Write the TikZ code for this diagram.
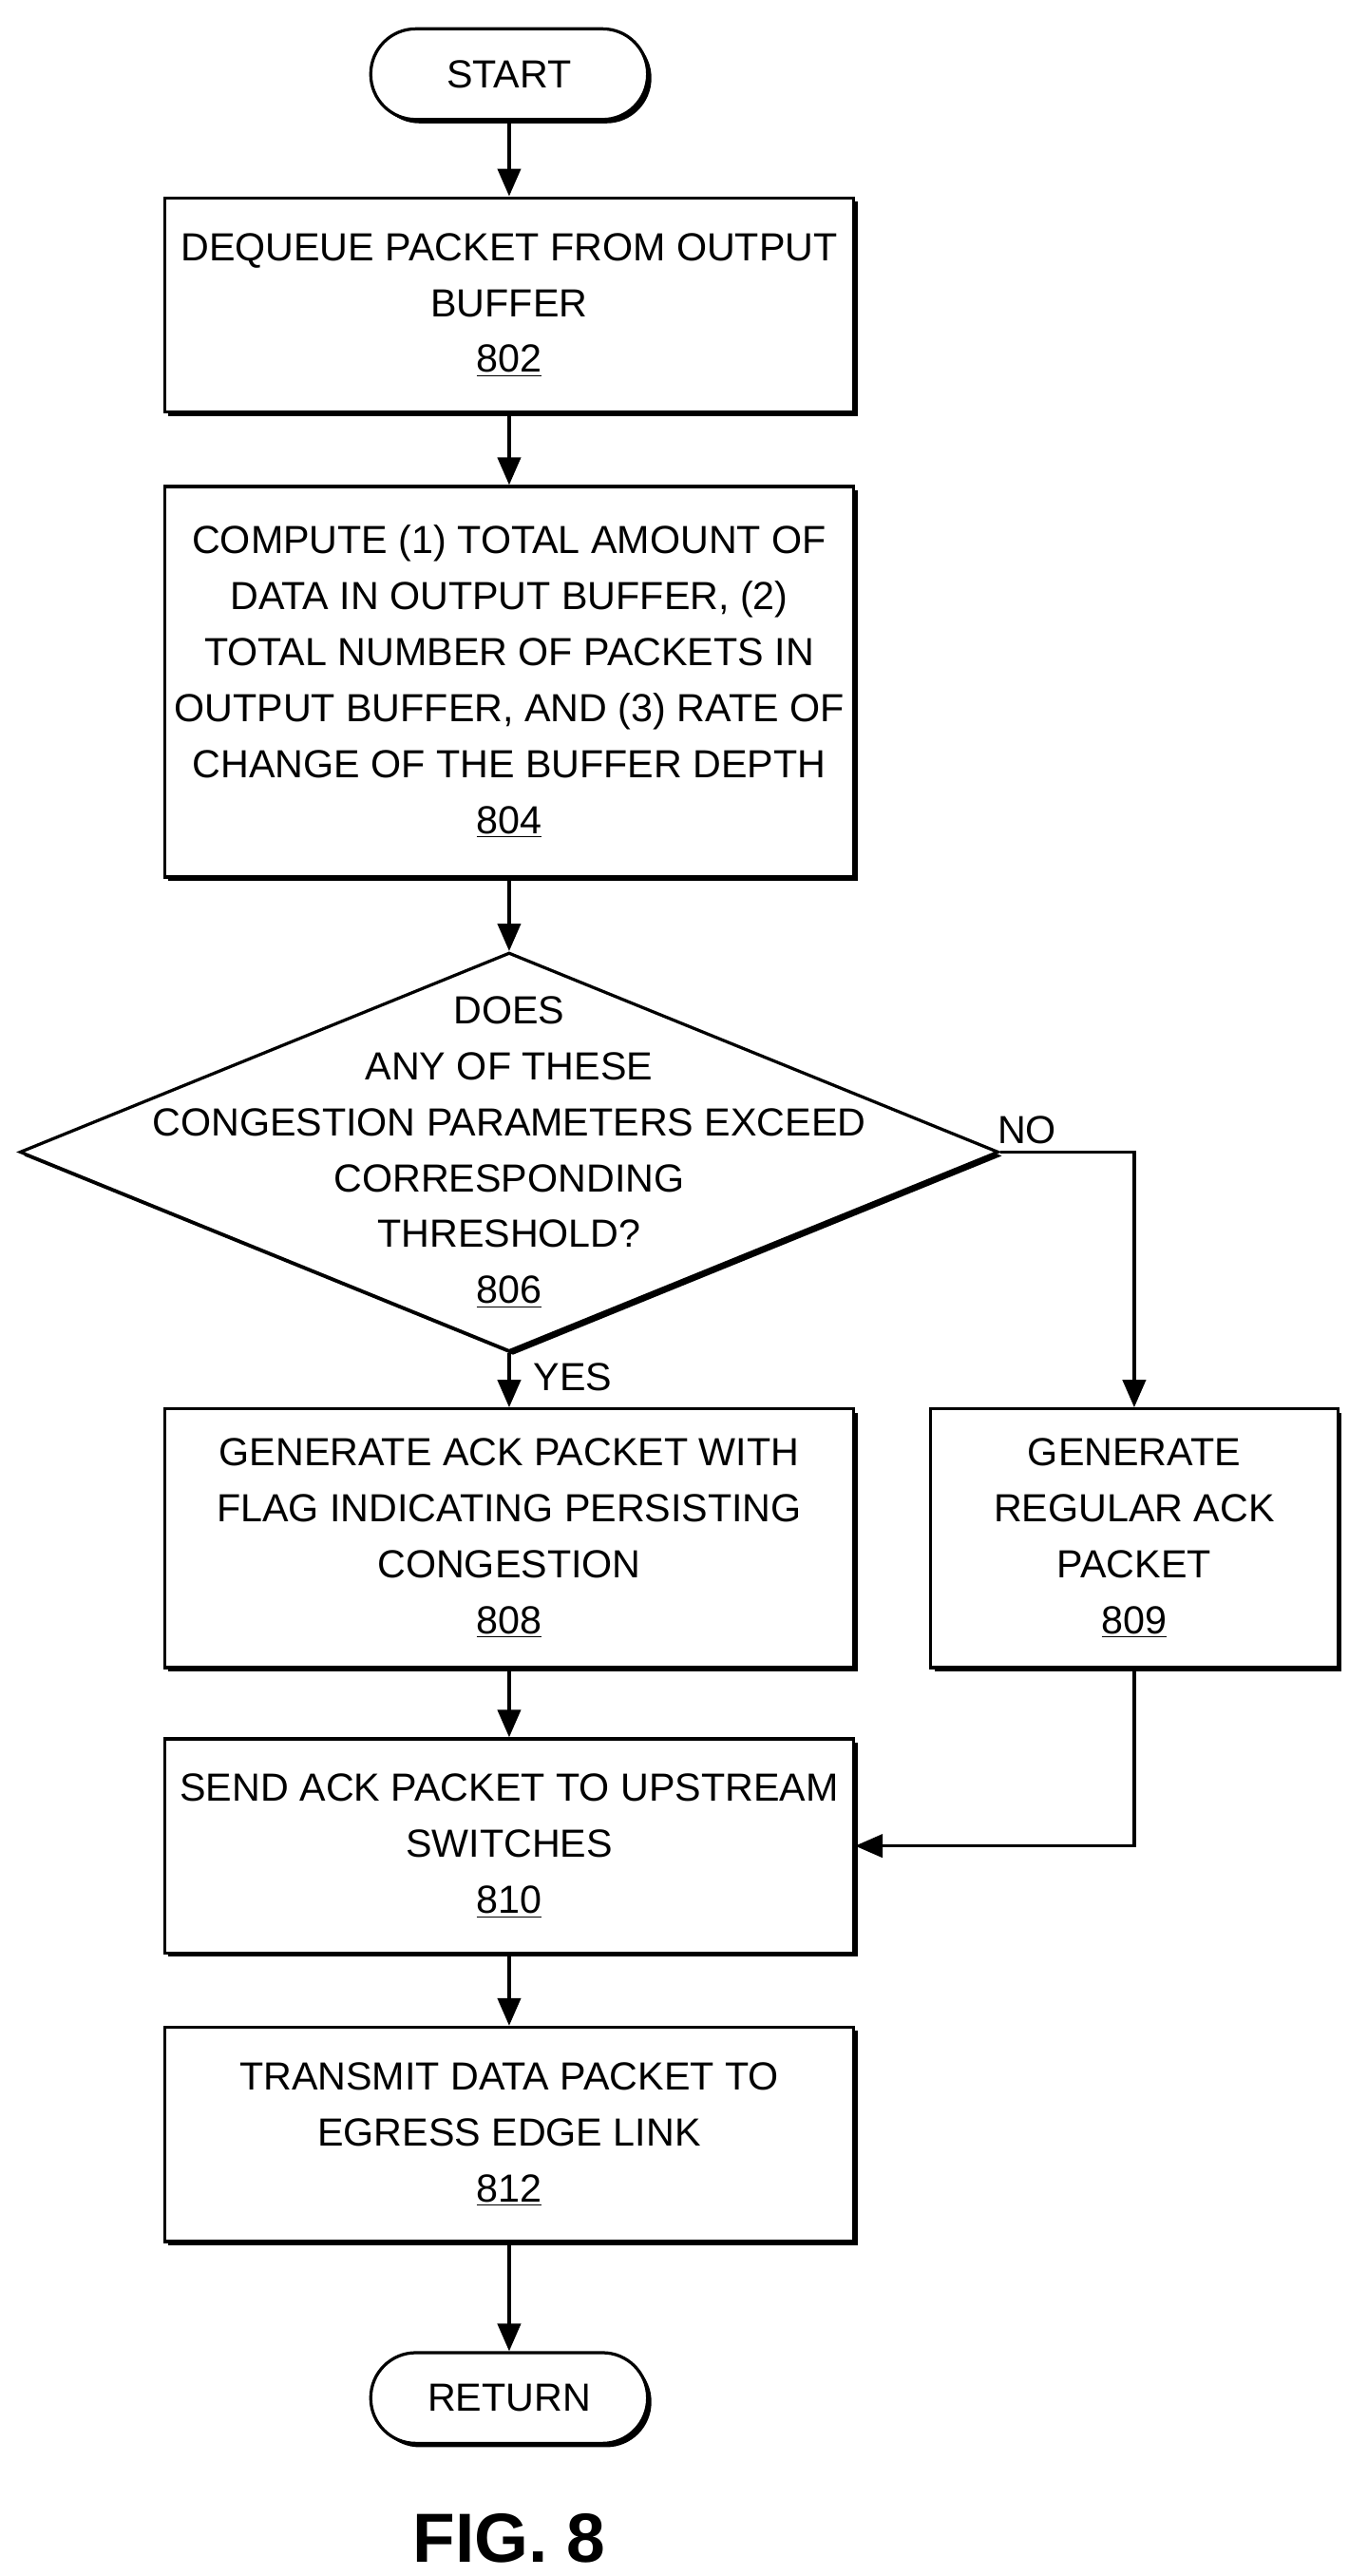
\documentclass[tikz,border=0pt]{standalone}
\usepackage{fontspec}
\setmainfont{Liberation Sans}
\usetikzlibrary{shapes.geometric,shadows,arrows.meta}

\tikzset{
  shadowed/.style={drop shadow={shadow xshift=0.07cm, shadow yshift=-0.07cm, fill=black, opacity=1}},
  flowbox/.style={draw, line width=1.6pt, fill=white, shadowed, align=center, inner sep=0pt, font=\fontsize{20.3}{29}\selectfont},
  term/.style={flowbox, rounded corners=0.82cm},
  link/.style={line width=1.6pt, -{Triangle[length=0.5cm, width=0.42cm]}},
  tag/.style={font=\fontsize{20.3}{25}\selectfont}
}
\newcommand{\refnum}[1]{\underline{#1}}

\begin{document}
\begin{tikzpicture}
\useasboundingbox (0,0) rectangle (24.9,-46.89);

\node[term, minimum width=5.04cm, minimum height=1.65cm] (start) at (9.27,-1.35) {START};
\node[flowbox, minimum width=12.54cm, minimum height=3.9cm] (dequeue) at (9.27,-5.55)
  {DEQUEUE PACKET FROM OUTPUT\\BUFFER\\\refnum{802}};
\node[flowbox, minimum width=12.54cm, minimum height=7.11cm] (compute) at (9.27,-12.41)
  {COMPUTE (1) TOTAL AMOUNT OF\\DATA IN OUTPUT BUFFER, (2)\\TOTAL NUMBER OF PACKETS IN\\OUTPUT BUFFER, AND (3) RATE OF\\CHANGE OF THE BUFFER DEPTH\\\refnum{804}};
\node[flowbox, diamond, aspect=2.45, minimum width=17.82cm, minimum height=7.26cm] (check) at (9.27,-20.97) {};
\node[align=center, font=\fontsize{20.3}{29}\selectfont] (checktext) at (check.center)
  {DOES\\ANY OF THESE\\CONGESTION PARAMETERS EXCEED\\CORRESPONDING\\THRESHOLD?\\\refnum{806}};
\node[flowbox, minimum width=12.54cm, minimum height=4.71cm] (flagack) at (9.27,-28.0)
  {GENERATE ACK PACKET WITH\\FLAG INDICATING PERSISTING\\CONGESTION\\\refnum{808}};
\node[flowbox, minimum width=7.41cm, minimum height=4.71cm] (regack) at (20.65,-28.0)
  {GENERATE\\REGULAR ACK\\PACKET\\\refnum{809}};
\node[flowbox, minimum width=12.54cm, minimum height=3.9cm] (send) at (9.27,-33.6)
  {SEND ACK PACKET TO UPSTREAM\\SWITCHES\\\refnum{810}};
\node[flowbox, minimum width=12.54cm, minimum height=3.9cm] (transmit) at (9.27,-38.85)
  {TRANSMIT DATA PACKET TO\\EGRESS EDGE LINK\\\refnum{812}};
\node[term, minimum width=5.04cm, minimum height=1.65cm] (return) at (9.27,-43.65) {RETURN};
\node[font=\bfseries\fontsize{36}{40}\selectfont] (fig) at (9.27,-46.2) {FIG. 8};

\draw[link] (start) -- (dequeue);
\draw[link] (dequeue) -- (compute);
\draw[link] (compute) -- (check);
\draw[link] (check) -- node[tag, right=0.3cm, pos=0.45] (yes) {YES} (flagack);
\draw[link] (check.east) -| node[tag, above, pos=0.1] (no) {NO} (regack.north);
\draw[link] (flagack) -- (send);
\draw[link] (regack.south) |- (send.east);
\draw[link] (send) -- (transmit);
\draw[link] (transmit) -- (return);
\end{tikzpicture}
\end{document}
